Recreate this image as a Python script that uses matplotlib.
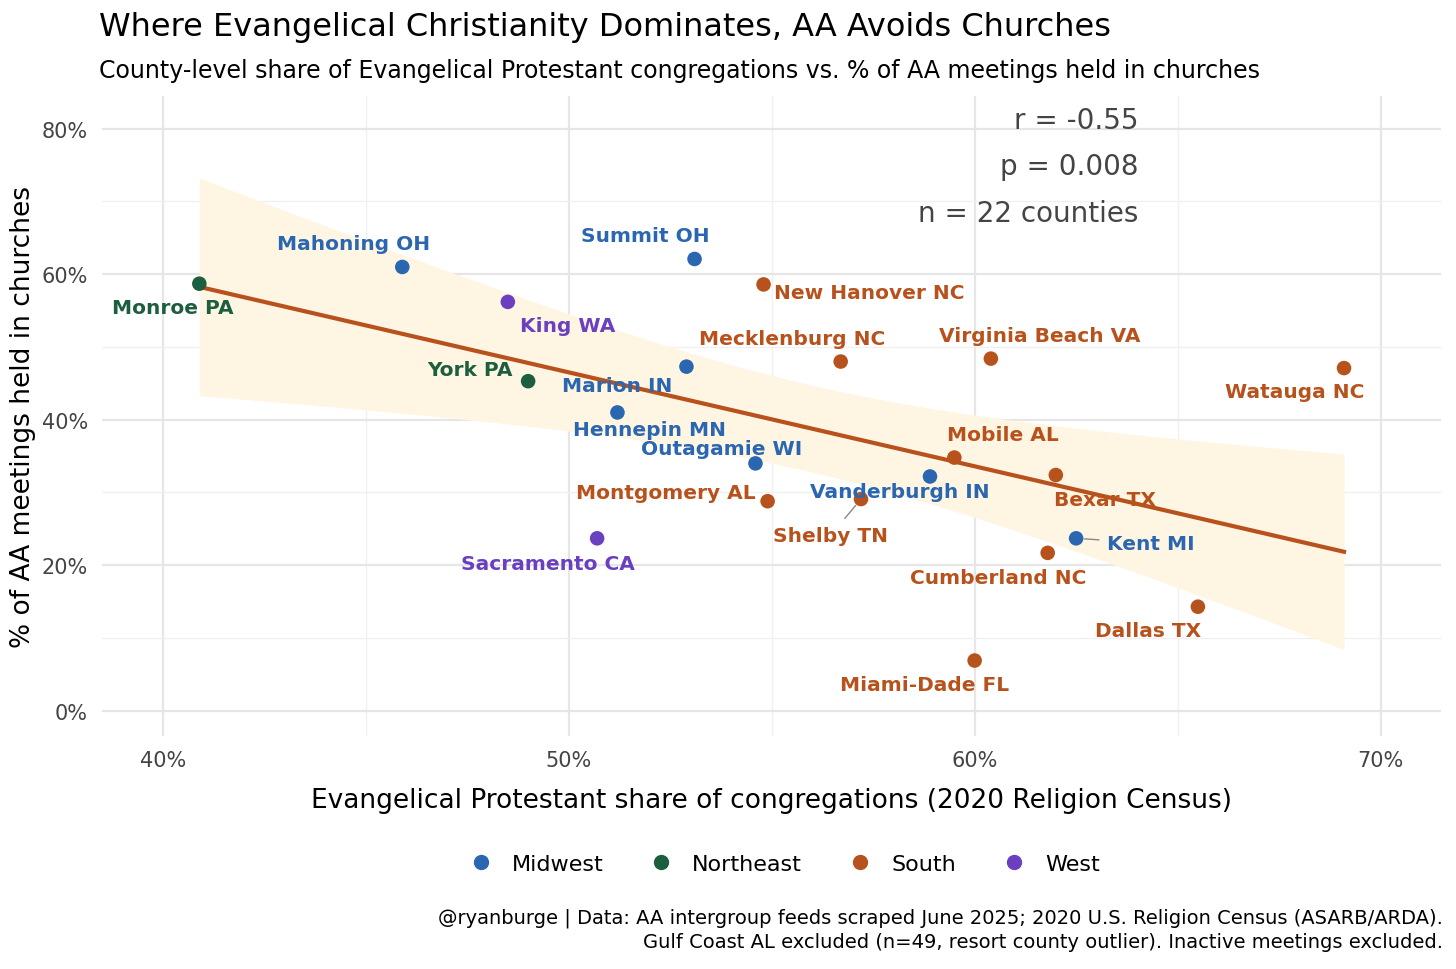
import numpy as np
import matplotlib
matplotlib.use("Agg")
import matplotlib.pyplot as plt
import matplotlib.ticker as mticker

plt.rcParams['font.family'] = ['DejaVu Sans']

counties = ['Monroe PA', 'Mahoning OH', 'King WA', 'York PA', 'Summit OH', 'Marion IN',
            'Hennepin MN', 'Outagamie WI', 'Sacramento CA', 'New Hanover NC', 'Mecklenburg NC',
            'Montgomery AL', 'Shelby TN', 'Vanderburgh IN', 'Virginia Beach VA', 'Mobile AL',
            'Bexar TX', 'Kent MI', 'Cumberland NC', 'Dallas TX', 'Miami-Dade FL', 'Watauga NC']
region = ['Northeast', 'Midwest', 'West', 'Northeast', 'Midwest', 'Midwest',
          'Midwest', 'Midwest', 'West', 'South', 'South',
          'South', 'South', 'Midwest', 'South', 'South',
          'South', 'Midwest', 'South', 'South', 'South', 'South']
evang = [40.9, 45.9, 48.5, 49.0, 53.1, 52.9, 51.2, 54.6, 50.7, 54.8, 56.7,
         54.9, 57.2, 58.9, 60.4, 59.5, 62.0, 62.5, 61.8, 65.5, 60.0, 69.1]
aa_church = [58.7, 61.0, 56.2, 45.3, 62.1, 47.3, 41.0, 34.0, 23.7, 58.6, 48.0,
             28.8, 29.1, 32.2, 48.4, 34.8, 32.4, 23.7, 21.7, 14.3, 6.9, 47.1]
# label offsets in pixels (dx, dy up)
offsets = [(-27, -24), (-49, 23), (60, -24), (-58, 12), (-49, 23), (-69, -19),
           (32, -17), (-34, 15), (-49, -25), (106, -8), (-49, 23),
           (-102, 9), (-30, -36), (-30, -15), (49, 23), (49, 23),
           (49, -24), (75, -5), (-50, -25), (-50, -24), (-50, -24), (-49, -23)]
segments = {'Shelby TN', 'Kent MI'}

colors = {'Midwest': '#2B66B0', 'Northeast': '#1D5E3F', 'South': '#B8521C', 'West': '#6A40C0'}

x = np.array(evang)
y = np.array(aa_church)
n = len(x)
b1, b0 = np.polyfit(x, y, 1)
xs = np.linspace(x.min(), x.max(), 100)
ys = b0 + b1 * xs
resid = y - (b0 + b1 * x)
s = np.sqrt(np.sum(resid ** 2) / (n - 2))
se = s * np.sqrt(1 / n + (xs - x.mean()) ** 2 / np.sum((x - x.mean()) ** 2))
t = 2.086

fig = plt.figure(figsize=(14.56, 9.7), dpi=100)
ax = fig.add_axes([0.070, 0.24, 0.92, 0.66])
ax.fill_between(xs, ys - t * se, ys + t * se, color='#FFF5E3', lw=0, zorder=1)
ax.plot(xs, ys, color='#B8521C', lw=3, zorder=2)

for name, reg, xi, yi, (dx, dy) in zip(counties, region, evang, aa_church, offsets):
    c = colors[reg]
    ax.scatter(xi, yi, s=110, color=c, zorder=3, edgecolors='none')
    ax.annotate(name, (xi, yi), xytext=(dx, dy), textcoords='offset pixels',
                ha='center', va='center', fontsize=14.5, fontweight='bold', color=c, zorder=4,
                arrowprops=dict(arrowstyle='-', color='#888888', lw=1,
                                shrinkA=4, shrinkB=6) if name in segments else None)

ax.set_xlim(38.5, 71.5)
ax.set_ylim(-3.5, 84.5)
ax.xaxis.set_major_locator(mticker.MultipleLocator(10))
ax.xaxis.set_minor_locator(mticker.MultipleLocator(5))
ax.yaxis.set_major_locator(mticker.MultipleLocator(20))
ax.yaxis.set_minor_locator(mticker.MultipleLocator(10))
ax.xaxis.set_major_formatter(mticker.FuncFormatter(lambda v, p: f'{v:.0f}%'))
ax.yaxis.set_major_formatter(mticker.FuncFormatter(lambda v, p: f'{v:.0f}%'))
ax.grid(which='major', color='#E6E6E6', lw=1.6)
ax.grid(which='minor', color='#F0F0F0', lw=1)
ax.set_axisbelow(True)
for sp in ax.spines.values():
    sp.set_visible(False)
ax.tick_params(which='both', length=0, labelsize=15, colors='#444444', pad=10)
ax.set_xlabel('Evangelical Protestant share of congregations (2020 Religion Census)', fontsize=19, labelpad=12)
ax.set_ylabel('% of AA meetings held in churches', fontsize=19, labelpad=4)

ax.text(0.774, 0.985, 'r = -0.55\np = 0.008\nn = 22 counties', transform=ax.transAxes,
        ha='right', va='top', fontsize=20, color='#444444', linespacing=1.85)

fig.text(0.068, 0.972, 'Where Evangelical Christianity Dominates, AA Avoids Churches', fontsize=23, va='center')
fig.text(0.068, 0.927, 'County-level share of Evangelical Protestant congregations vs. % of AA meetings held in churches',
         fontsize=17, va='center')

handles = [plt.Line2D([], [], marker='o', ls='', color=colors[r], markersize=10) for r in colors]
fig.legend(handles, list(colors), loc='center', bbox_to_anchor=(0.535, 0.108), ncol=4,
           frameon=False, fontsize=16, handletextpad=0.4, columnspacing=1.6)

fig.text(0.991, 0.041, '@ryanburge | Data: AA intergroup feeds scraped June 2025; 2020 U.S. Religion Census (ASARB/ARDA).\n'
         'Gulf Coast AL excluded (n=49, resort county outlier). Inactive meetings excluded.',
         ha='right', va='center', fontsize=14, linespacing=1.3)

fig.savefig('out.png', dpi=100, facecolor='white')
